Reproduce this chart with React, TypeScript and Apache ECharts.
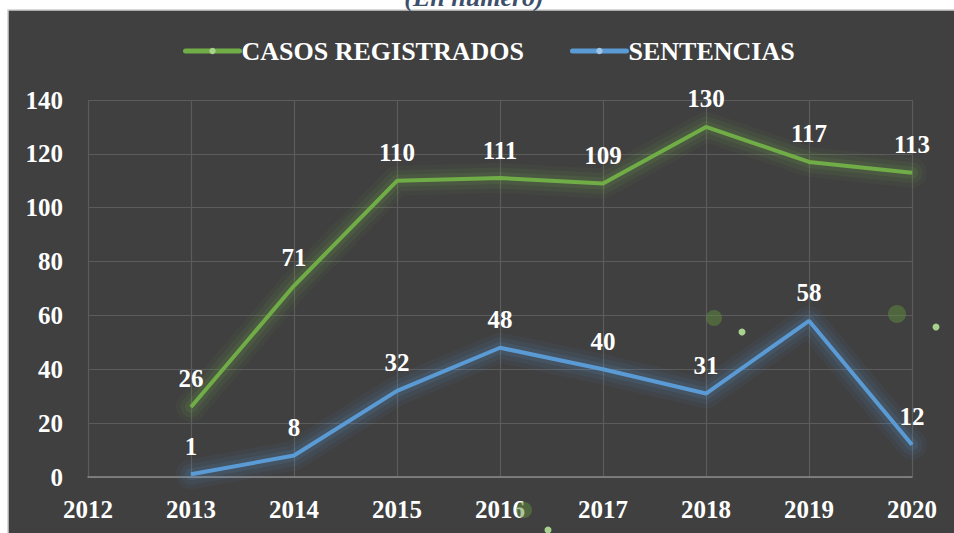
import React, { useEffect, useRef } from "react";
import * as echarts from "echarts";

const years = ["2012", "2013", "2014", "2015", "2016", "2017", "2018", "2019", "2020"];
const casosRegistrados = [null, 26, 71, 110, 111, 109, 130, 117, 113];
const sentencias = [null, 1, 8, 32, 48, 40, 31, 58, 12];
const seriesNames = ["CASOS REGISTRADOS", "SENTENCIAS"];
const subtitle = "(En número)";

const FONT = "Liberation Serif";

export default function App() {
  const ref = useRef<HTMLDivElement>(null);
  useEffect(() => {
    document.body.style.margin = "0";
    const chart = echarts.init(ref.current!, null, { renderer: "svg" });
    const labelStyle = {
      show: true,
      position: "top",
      distance: 15,
      color: "#ffffff",
      fontSize: 25,
      fontWeight: "bold",
      fontFamily: FONT,
    };
    const dot = (x: number, y: number, r: number, blur: boolean) => ({
      type: "circle",
      shape: { cx: x, cy: y, r },
      style: blur ? { fill: "rgba(95,140,60,0.5)" } : { fill: "#A9D18E" },
      z: 1,
    });
    const glow = (name: string, data: (number | null)[], color: string, width: number, opacity: number) => ({
      name,
      type: "line",
      data,
      symbol: "none",
      silent: true,
      lineStyle: { color, width, opacity, cap: "round", join: "round" },
      label: { show: false },
      z: 1,
    });
    chart.setOption({
      animation: false,
      backgroundColor: "#ffffff",
      graphic: [
        {
          type: "rect",
          shape: { x: 8, y: 10, width: 960, height: 540 },
          style: { fill: "#404040", stroke: "#d0d0d0", lineWidth: 1.5 },
          z: -10,
          silent: true,
        },
        {
          type: "text",
          x: 474,
          y: 10,
          style: {
            text: subtitle,
            fill: "#3d4f6b",
            fontSize: 26,
            fontStyle: "italic",
            fontWeight: "bold",
            fontFamily: FONT,
            align: "center",
            verticalAlign: "bottom",
          },
          z: -5,
        },
        dot(714, 318, 8, true),
        dot(742, 332, 3.5, false),
        dot(897, 314, 9, true),
        dot(936, 327, 3.5, false),
        dot(524, 510, 8, true),
        dot(548, 530, 3.5, false),
      ],
      legend: {
        left: 178,
        top: 33,
        itemWidth: 54,
        itemHeight: 8,
        itemGap: 46,
        textStyle: {
          color: "#ffffff",
          fontSize: 26,
          fontWeight: "bold",
          fontFamily: FONT,
          padding: [0, 0, 0, -3],
        },
        data: [
          { name: seriesNames[0], itemStyle: { color: "#A9D18E" }, lineStyle: { color: "#70AD47", width: 5, opacity: 1 } },
          { name: seriesNames[1], itemStyle: { color: "#9DC3E6" }, lineStyle: { color: "#5B9BD5", width: 5, opacity: 1 } },
        ],
      },
      grid: { left: 88, right: 42, top: 100, bottom: 56 },
      xAxis: {
        type: "category",
        data: years,
        boundaryGap: false,
        axisLine: { lineStyle: { color: "#8a8a8a", width: 1.5 } },
        axisTick: { show: false },
        axisLabel: {
          color: "#ffffff",
          fontSize: 25,
          fontWeight: "bold",
          fontFamily: FONT,
          margin: 20,
        },
        splitLine: { show: true, lineStyle: { color: "#5c5c5c", width: 1.2 } },
      },
      yAxis: {
        type: "value",
        min: 0,
        max: 140,
        interval: 20,
        axisLine: { show: false },
        axisTick: { show: false },
        axisLabel: {
          color: "#ffffff",
          fontSize: 25,
          fontWeight: "bold",
          fontFamily: FONT,
          margin: 25,
        },
        splitLine: { lineStyle: { color: "#5c5c5c", width: 1.2 } },
      },
      series: [
        glow(seriesNames[0], casosRegistrados, "#70AD47", 30, 0.06),
        glow(seriesNames[0], casosRegistrados, "#70AD47", 21, 0.08),
        glow(seriesNames[0], casosRegistrados, "#70AD47", 12, 0.12),
        glow(seriesNames[1], sentencias, "#5B9BD5", 30, 0.06),
        glow(seriesNames[1], sentencias, "#5B9BD5", 21, 0.08),
        glow(seriesNames[1], sentencias, "#5B9BD5", 12, 0.12),
        {
          name: seriesNames[0],
          type: "line",
          data: casosRegistrados,
          symbol: "circle",
          symbolSize: 1,
          itemStyle: { color: "#70AD47" },
          lineStyle: { color: "#70AD47", width: 4 },
          label: labelStyle,
          z: 3,
        },
        {
          name: seriesNames[1],
          type: "line",
          data: sentencias,
          symbol: "circle",
          symbolSize: 1,
          itemStyle: { color: "#5B9BD5" },
          lineStyle: { color: "#5B9BD5", width: 4 },
          label: labelStyle,
          z: 3,
        },
      ],
    });
    return () => chart.dispose();
  }, []);
  return <div ref={ref} style={{ width: 954, height: 533 }} />;
}
